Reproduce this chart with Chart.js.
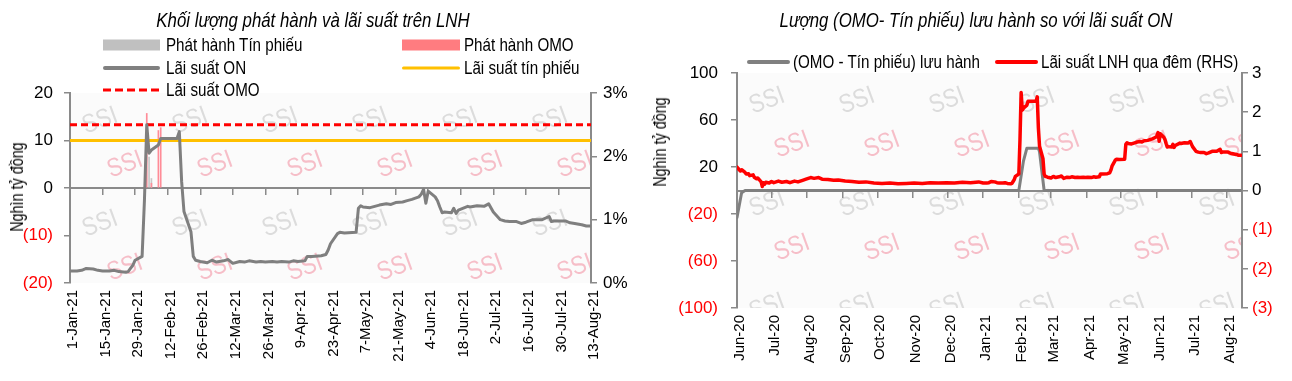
<!DOCTYPE html>
<html><head><meta charset="utf-8">
<script src="https://cdn.jsdelivr.net/npm/chart.js@4.4.0/dist/chart.umd.min.js"></script>
<style>
html,body{margin:0;padding:0;background:#fff;width:1292px;height:381px;overflow:hidden;position:relative;}
.wrap{position:absolute;top:0;height:381px;width:646px;}
canvas{display:block;}
.t{position:absolute;font-family:'Liberation Sans',Arial,sans-serif;font-size:18.5px;color:#000;white-space:nowrap;line-height:20px;transform-origin:0 50%;transform:translateY(-50%) scaleX(0.82);}
.ti{position:absolute;font-family:'Liberation Sans',Arial,sans-serif;font-size:20.5px;font-style:italic;color:#000;white-space:nowrap;line-height:22px;transform:translate(-50%,-50%) scaleX(0.82);}
.sw{position:absolute;transform:translateY(-50%);}
.yt{position:absolute;font-family:'Liberation Sans',Arial,sans-serif;font-size:17.5px;color:#000;white-space:nowrap;line-height:18px;transform:translate(-50%,-50%) rotate(-90deg) scaleX(0.82);}
</style></head>
<body>
<div class="wrap" style="left:0"><canvas id="c1" width="646" height="381"></canvas></div>
<div class="wrap" style="left:646px"><canvas id="c2" width="646" height="381"></canvas></div>

<div class="ti" style="left:313px;top:20px">Khối lượng phát hành và lãi suất trên LNH</div>
<div class="ti" style="left:976px;top:20px">Lượng (OMO- Tín phiếu) lưu hành so với lãi suất ON</div>

<!-- left legend -->
<div class="sw" style="left:103px;top:45px;width:57px;height:11px;background:#c0c0c0"></div>
<div class="t" style="left:166px;top:45px">Phát hành Tín phiếu</div>
<div class="sw" style="left:402px;top:45px;width:58px;height:11px;background:#ff7c80"></div>
<div class="t" style="left:464px;top:45px">Phát hành OMO</div>
<div class="sw" style="left:103px;top:68px;width:57px;height:4px;border-radius:2px;background:#808080"></div>
<div class="t" style="left:166px;top:68px">Lãi suất ON</div>
<div class="sw" style="left:402px;top:68px;width:58px;height:3px;border-radius:2px;background:#ffc000"></div>
<div class="t" style="left:464px;top:68px">Lãi suất tín phiếu</div>
<div class="sw" style="left:103px;top:90px;width:57px;height:3px;background:repeating-linear-gradient(to right,#ff0000 0 8px,transparent 8px 12px)"></div>
<div class="t" style="left:166px;top:90px">Lãi suất OMO</div>
<div class="yt" style="left:17px;top:187px">Nghìn tỷ đồng</div>

<!-- right legend -->
<div class="sw" style="left:747px;top:62px;width:43px;height:4px;border-radius:2px;background:#808080"></div>
<div class="t" style="left:793px;top:62px">(OMO - Tín phiếu) lưu hành</div>
<div class="sw" style="left:995px;top:62px;width:43px;height:4px;border-radius:2px;background:#ff0000"></div>
<div class="t" style="left:1041px;top:62px">Lãi suất LNH qua đêm (RHS)</div>
<div class="yt" style="left:660px;top:142px">Nghìn tỷ đồng</div>

<script>
// ---------- DATA ----------
const onDates = ['2020-06-01','2020-06-02','2020-06-04','2020-06-05','2020-06-08','2020-06-09','2020-06-11','2020-06-12','2020-06-15','2020-06-16','2020-06-18','2020-06-19','2020-06-22','2020-06-23','2020-06-24','2020-06-25','2020-06-26','2020-06-29','2020-07-01','2020-07-03','2020-07-07','2020-07-10','2020-07-14','2020-07-17','2020-07-21','2020-07-24','2020-07-28','2020-07-31','2020-08-04','2020-08-07','2020-08-11','2020-08-14','2020-08-19','2020-08-24','2020-08-28','2020-09-03','2020-09-09','2020-09-15','2020-09-21','2020-09-28','2020-10-05','2020-10-12','2020-10-19','2020-10-26','2020-11-02','2020-11-09','2020-11-16','2020-11-23','2020-11-30','2020-12-07','2020-12-14','2020-12-21','2020-12-28',
'2021-01-01','2021-01-04','2021-01-06','2021-01-08','2021-01-11','2021-01-13','2021-01-15','2021-01-18','2021-01-20','2021-01-22','2021-01-25','2021-01-26','2021-01-27','2021-01-28','2021-01-29','2021-02-01','2021-02-02','2021-02-03','2021-02-04','2021-02-05','2021-02-08','2021-02-09','2021-02-10','2021-02-16','2021-02-17','2021-02-18','2021-02-19','2021-02-22','2021-02-23','2021-02-24','2021-02-26','2021-03-01','2021-03-03','2021-03-05','2021-03-08','2021-03-10','2021-03-12','2021-03-15','2021-03-17','2021-03-19','2021-03-22','2021-03-24','2021-03-26','2021-03-29','2021-03-31','2021-04-02','2021-04-05','2021-04-07','2021-04-09','2021-04-12','2021-04-13','2021-04-15','2021-04-19','2021-04-21','2021-04-22','2021-04-23','2021-04-26','2021-04-27','2021-04-29','2021-05-04','2021-05-05','2021-05-06','2021-05-07','2021-05-10','2021-05-12','2021-05-14','2021-05-17','2021-05-19','2021-05-21','2021-05-24','2021-05-26','2021-05-28','2021-05-31','2021-06-01','2021-06-02','2021-06-03','2021-06-04','2021-06-07','2021-06-08','2021-06-09','2021-06-10','2021-06-11','2021-06-14','2021-06-15','2021-06-16','2021-06-17','2021-06-21','2021-06-22','2021-06-25','2021-06-28','2021-06-30','2021-07-02','2021-07-05','2021-07-07','2021-07-09','2021-07-12','2021-07-14','2021-07-16','2021-07-19','2021-07-21','2021-07-23','2021-07-26','2021-07-27','2021-07-28','2021-07-30','2021-08-02','2021-08-04','2021-08-06','2021-08-09','2021-08-11','2021-08-13'];
const onRates = [0.60,0.56,0.50,0.53,0.46,0.42,0.43,0.38,0.40,0.34,0.30,0.32,0.22,0.10,0.20,0.16,0.21,0.19,0.23,0.20,0.24,0.21,0.23,0.20,0.24,0.22,0.26,0.29,0.33,0.31,0.33,0.29,0.28,0.26,0.27,0.24,0.23,0.21,0.22,0.19,0.18,0.19,0.17,0.18,0.19,0.18,0.20,0.19,0.20,0.19,0.21,0.20,0.22,
0.19,0.19,0.20,0.23,0.22,0.20,0.19,0.19,0.20,0.18,0.17,0.18,0.23,0.28,0.36,0.42,1.30,2.50,2.05,2.10,2.18,2.28,2.28,2.28,2.39,1.60,1.13,0.81,0.42,0.36,0.34,0.32,0.36,0.33,0.35,0.37,0.31,0.34,0.33,0.35,0.33,0.34,0.33,0.34,0.33,0.34,0.33,0.35,0.34,0.35,0.42,0.42,0.43,0.45,0.52,0.62,0.78,0.80,0.79,0.80,1.18,1.22,1.20,1.19,1.21,1.23,1.25,1.24,1.27,1.28,1.30,1.32,1.36,1.40,1.48,1.26,1.45,1.36,1.30,1.20,1.11,1.12,1.11,1.18,1.10,1.15,1.21,1.20,1.22,1.21,1.25,1.12,1.00,0.98,0.97,0.97,0.94,0.96,1.00,1.00,1.00,1.05,0.97,0.98,0.98,0.98,0.95,0.94,0.92,0.90,0.90];

const omoIssueDates = ['2021-02-03','2021-02-05','2021-02-08','2021-02-09'];
const omoIssue = [15.7, 1.0, 12.1, 12.7];
const tpIssueDates = ['2021-02-04','2021-02-05'];
const tpIssue = [6.5, 2.0];
const omoRate = 2.5;
const tpRate = 2.25;

const outDates = ['2020-06-01','2020-06-05','2020-06-08','2021-02-01','2021-02-05','2021-02-08','2021-02-18','2021-02-19','2021-02-23','2021-08-13'];
const outValues = [-23, -2, 0, 0, 25, 36, 36, 33, 0, 0];

const leftStart = '2021-01-01', leftEnd = '2021-08-13';
const rightStart = '2020-06-01', rightEnd = '2021-08-14';
const leftTickDates = ['2021-01-01','2021-01-15','2021-01-29','2021-02-12','2021-02-26','2021-03-12','2021-03-26','2021-04-09','2021-04-23','2021-05-07','2021-05-21','2021-06-04','2021-06-18','2021-07-02','2021-07-16','2021-07-30','2021-08-13'];
const leftTickLabels = ['1-Jan-21','15-Jan-21','29-Jan-21','12-Feb-21','26-Feb-21','12-Mar-21','26-Mar-21','9-Apr-21','23-Apr-21','7-May-21','21-May-21','4-Jun-21','18-Jun-21','2-Jul-21','16-Jul-21','30-Jul-21','13-Aug-21'];
const rightTickDates = ['2020-06-01','2020-07-01','2020-08-01','2020-09-01','2020-10-01','2020-11-01','2020-12-01','2021-01-01','2021-02-01','2021-03-01','2021-04-01','2021-05-01','2021-06-01','2021-07-01','2021-08-01'];
const rightTickLabels = ['Jun-20','Jul-20','Aug-20','Sep-20','Oct-20','Nov-20','Dec-20','Jan-21','Feb-21','Mar-21','Apr-21','May-21','Jun-21','Jul-21','Aug-21'];

// ---------- HELPERS ----------
const FONT = "'Liberation Sans', Arial, sans-serif";
const DAY = 86400000;
const ts = d => Date.parse(d + 'T00:00:00Z');
const dayOf = (d, start) => Math.round((ts(d) - ts(start)) / DAY);
const pts = (dates, vals, start, from) => dates.map((d, i) => ({d, x: dayOf(d, start), y: vals[i]}))
  .filter(p => !from || ts(p.d) >= ts(from)).map(p => ({x: p.x, y: p.y}));
const paren = v => v < 0 ? '(' + Math.abs(v) + ')' : String(v);
const negRed = c => (c.tick && c.tick.value < 0) ? '#ff0000' : '#000000';
const AX = '#8a8a8a';

const wmPlugin = {
  id: 'wm',
  beforeDraw(chart) {
    const {ctx, chartArea: a} = chart;
    ctx.save();
    ctx.beginPath(); ctx.rect(a.left, a.top, a.right - a.left, a.bottom - a.top); ctx.clip();
    ctx.fillStyle = '#fbfbfb'; ctx.fillRect(a.left, a.top, a.right - a.left, a.bottom - a.top);
    ctx.font = '26px ' + FONT; ctx.textAlign = 'center'; ctx.textBaseline = 'middle';
    for (let r = 0; r < 3; r++) for (let c = 0; c < 7; c++) {
      [[30, 28, '#dcdcdc'], [55, 72, '#f6bec8']].forEach(([dx, dy, col]) => {
        ctx.save();
        ctx.translate(a.left + dx + c * 90, a.top + dy + r * 103);
        ctx.rotate(-0.35);
        ctx.scale(0.85, 1);
        ctx.fillStyle = col; ctx.fillText('SSI', 0, 0);
        ctx.restore();
      });
    }
    ctx.restore();
  }
};

function xAxes(start, end, tickDates, tickLabels, yId, height) {
  const setTicks = s => { s.ticks = tickDates.map(d => ({value: dayOf(d, start)})); };
  return {
    x: {
      type: 'linear', min: 0, max: dayOf(end, start), offset: false,
      afterBuildTicks: setTicks,
      afterFit: s => { s.height = height; },
      border: {display: false},
      grid: {display: false, drawTicks: false},
      ticks: {
        autoSkip: false, maxRotation: 90, minRotation: 90, padding: 7, labelOffset: 3,
        color: '#000', font: {family: FONT, size: 15},
        callback: v => { const i = tickDates.findIndex(d => dayOf(d, start) === v); return i >= 0 ? tickLabels[i] : ''; }
      }
    },
    x0: {
      type: 'linear', min: 0, max: dayOf(end, start), offset: false,
      position: {[yId]: 0},
      afterBuildTicks: setTicks,
      border: {display: true, color: AX, width: 2},
      grid: {drawOnChartArea: false, drawTicks: true, tickLength: 6, color: AX, lineWidth: 1.5},
      ticks: {display: false}
    }
  };
}

const lineDs = (label, data, color, yAxisID, order, extra) => Object.assign({
  type: 'line', label, data, borderColor: color, backgroundColor: color, borderWidth: 3,
  pointRadius: 0, tension: 0, yAxisID, xAxisID: 'x', order, borderJoinStyle: 'round', borderCapStyle: 'round'
}, extra || {});

const yTickFont = {family: FONT, size: 17};

// ---------- LEFT CHART ----------
const leftEndDay = dayOf(leftEnd, leftStart);
new Chart(document.getElementById('c1'), {
  type: 'line',
  data: {
    datasets: [
      lineDs('Lãi suất ON', pts(onDates, onRates, leftStart, leftStart), '#7f7f7f', 'yR', 0),
      lineDs('Lãi suất tín phiếu', [{x: 0, y: tpRate}, {x: leftEndDay, y: tpRate}], '#ffc000', 'yR', 1),
      lineDs('Lãi suất OMO', [{x: 0, y: omoRate}, {x: leftEndDay, y: omoRate}], '#ff0000', 'yR', 2, {borderDash: [7, 4], borderCapStyle: 'butt'}),
      {type: 'bar', label: 'Phát hành OMO', data: pts(omoIssueDates, omoIssue, leftStart), backgroundColor: '#ff8c98', barThickness: 1, grouped: false, yAxisID: 'yL', xAxisID: 'x', order: 3},
      {type: 'bar', label: 'Phát hành Tín phiếu', data: pts(tpIssueDates, tpIssue, leftStart), backgroundColor: '#c8c8c8', barThickness: 1, grouped: false, yAxisID: 'yL', xAxisID: 'x', order: 4}
    ]
  },
  options: {
    responsive: false, animation: false, devicePixelRatio: 1,
    layout: {padding: {top: 93}},
    plugins: {legend: {display: false}, tooltip: {enabled: false}, title: {display: false}},
    scales: Object.assign(xAxes(leftStart, leftEnd, leftTickDates, leftTickLabels, 'yL', 98), {
      yL: {
        position: 'left', min: -20, max: 20,
        afterFit: s => { s.width = 70; },
        border: {display: true, color: AX, width: 2},
        grid: {drawOnChartArea: false, drawTicks: true, tickLength: 6, color: AX, lineWidth: 1.5},
        ticks: {stepSize: 10, padding: 11, color: negRed, callback: paren, font: yTickFont}
      },
      yR: {
        position: 'right', min: 0, max: 3,
        afterFit: s => { s.width = 55; },
        border: {display: true, color: AX, width: 2},
        grid: {drawOnChartArea: false, drawTicks: true, tickLength: 6, color: AX, lineWidth: 1.5},
        ticks: {stepSize: 1, padding: 6, color: '#000', callback: v => v + '%', font: yTickFont}
      }
    })
  },
  plugins: [wmPlugin]
});

// ---------- RIGHT CHART ----------
new Chart(document.getElementById('c2'), {
  type: 'line',
  data: {
    datasets: [
      lineDs('Lãi suất LNH qua đêm (RHS)', pts(onDates, onRates, rightStart), '#ff0000', 'yR', 0, {borderWidth: 3.5}),
      lineDs('(OMO - Tín phiếu) lưu hành', pts(outDates, outValues, rightStart), '#808080', 'yL', 1)
    ]
  },
  options: {
    responsive: false, animation: false, devicePixelRatio: 1,
    layout: {padding: {top: 73}},
    plugins: {legend: {display: false}, tooltip: {enabled: false}, title: {display: false}},
    scales: Object.assign(xAxes(rightStart, rightEnd, rightTickDates, rightTickLabels, 'yL', 73), {
      yL: {
        position: 'left', min: -100, max: 100,
        afterFit: s => { s.width = 91; },
        border: {display: true, color: AX, width: 2},
        grid: {drawOnChartArea: false, drawTicks: true, tickLength: 6, color: AX, lineWidth: 1.5},
        ticks: {stepSize: 40, padding: 13, color: negRed, callback: paren, font: yTickFont}
      },
      yR: {
        position: 'right', min: -3, max: 3,
        afterFit: s => { s.width = 50; },
        border: {display: true, color: AX, width: 2},
        grid: {drawOnChartArea: false, drawTicks: true, tickLength: 6, color: AX, lineWidth: 1.5},
        ticks: {stepSize: 1, padding: 4, color: negRed, callback: paren, font: yTickFont}
      }
    })
  },
  plugins: [wmPlugin]
});
</script>
</body></html>
